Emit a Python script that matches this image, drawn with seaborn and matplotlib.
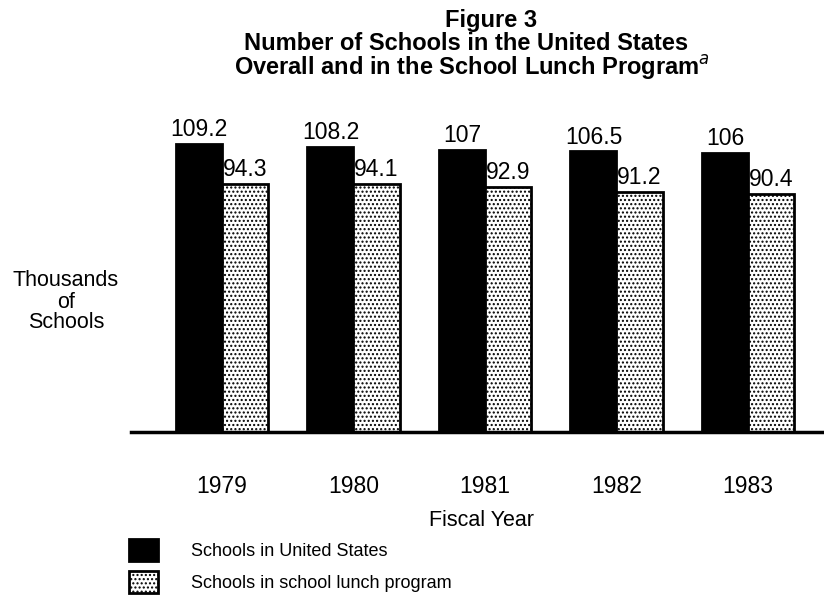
import pandas as pd
import matplotlib
matplotlib.use("Agg")
import matplotlib.pyplot as plt
import seaborn as sns

# Figure 3 data (thousands of schools)
years = ["1979", "1980", "1981", "1982", "1983"]
all_schools = [109.2, 108.2, 107, 106.5, 106]
lunch_schools = [94.3, 94.1, 92.9, 91.2, 90.4]
series_names = ["Schools in United States", "Schools in school lunch program"]

df = pd.DataFrame({
    "year": years * 2,
    "schools": all_schools + lunch_schools,
    "series": [series_names[0]] * len(years) + [series_names[1]] * len(years),
})

sns.set_theme(style="white")
plt.rcParams["font.family"] = ["Liberation Sans", "DejaVu Sans"]
plt.rcParams["text.color"] = "black"
plt.rcParams["xtick.color"] = "black"

fig = plt.figure(figsize=(8.24, 5.98), dpi=100)
ax = fig.add_axes([131 / 824, 1 - 432 / 598, 1 - 131 / 824, 332 / 598])

sns.barplot(data=df, x="year", y="schools", hue="series",
            palette=["black", "white"], edgecolor="black", linewidth=2,
            width=0.7, saturation=1, ax=ax)

# stipple the lunch-program bars
for p in ax.containers[1]:
    p.set_hatch("....")

for c in ax.containers:
    ax.bar_label(c, fmt="{:g}", padding=2, fontsize=16.5, color="black")

ax.set_xlim(-0.692, 4.578)
ax.set_ylim(0, 126)
ax.set_xlabel("")
ax.set_ylabel("")
ax.set_yticks([])
ax.tick_params(axis="x", length=0, labelsize=16.5, pad=31, labelcolor="black")
for s in ["left", "top", "right"]:
    ax.spines[s].set_visible(False)
ax.spines["bottom"].set_linewidth(2.5)
ax.spines["bottom"].set_color("black")

# legend under the chart
handles, labels = ax.get_legend_handles_labels()
handles[1].set_hatch("....")
ax.legend(handles, labels, loc="upper left",
          bbox_to_anchor=(120 / 824, 1 - 530 / 598), bbox_transform=fig.transFigure,
          frameon=False, fontsize=13, handlelength=1.6, handleheight=1.5,
          handletextpad=1.85, labelspacing=0.55, borderpad=0)

fig.text(66 / 824, 1 - 302 / 598, "Thousands\nof\nSchools", ha="center", va="center",
         fontsize=15.5, linespacing=1.0)
fig.text(482 / 824, 1 - 520 / 598, "Fiscal Year", ha="center", va="center", fontsize=15.5)

fig.text(491 / 824, 1 - 20 / 598, "Figure 3", ha="center", va="center",
         fontsize=17, fontweight="bold")
fig.text(466 / 824, 1 - 44 / 598, "Number of Schools in the United States",
         ha="center", va="center", fontsize=17, fontweight="bold")
fig.text(472 / 824, 1 - 68 / 598, "Overall and in the School Lunch Program$^a$",
         ha="center", va="center", fontsize=17, fontweight="bold")

fig.savefig("out.png", dpi=100, facecolor="white")
